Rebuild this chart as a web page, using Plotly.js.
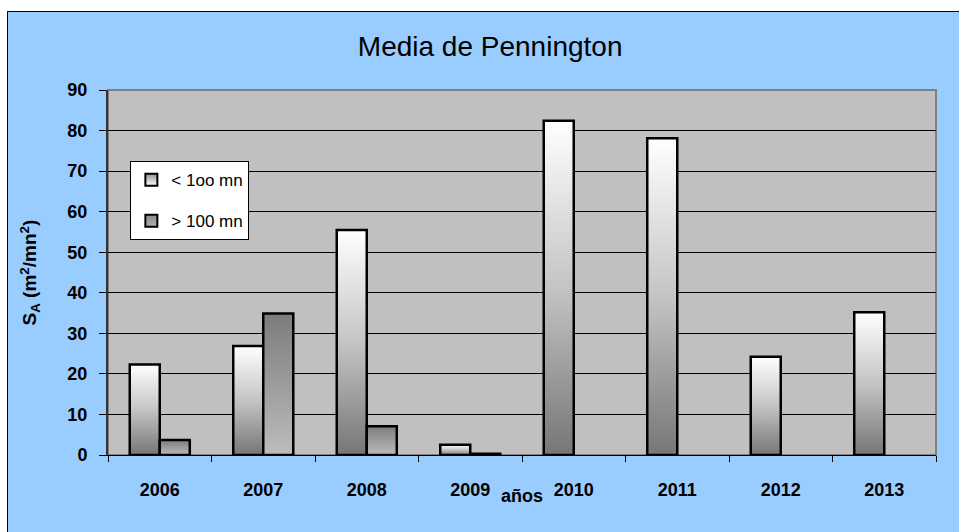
<!DOCTYPE html>
<html>
<head>
<meta charset="utf-8">
<script src="https://cdn.plot.ly/plotly-3.0.1.min.js"></script>
<style>
  html, body { margin: 0; padding: 0; background: #ffffff; }
  #frame {
    position: absolute; left: 7px; top: 11px;
    width: 951px; height: 520px;
    background: #99ccff;
    border-left: 1px solid #000; border-top: 1px solid #000;
  }
  #plot { width: 951px; height: 520px; }
</style>
</head>
<body>
<div id="frame"><div id="plot"></div></div>
<script>
// valores
const years = ['2006', '2007', '2008', '2009', '2010', '2011', '2012', '2013'];
const menos100 = [22.3, 26.9, 55.5, 2.5, 82.4, 78.1, 24.2, 35.2];
const mas100 = [3.7, 34.9, 7.1, 0.3, 0, 0, 0, 0];
const legendNames = ['< 1oo mn', '> 100 mn'];

const FONT = '"Liberation Sans", Arial, sans-serif';
const barW = 0.29;

// gradients: 0 = bottom of bar, 1 = top
const gradLow = [[0, '#767676'], [0.5, '#c4c4c4'], [1, '#ffffff']];
const gradHigh = [[0, '#bcbcbc'], [1, '#7c7c7c']];

function barTrace(i, v, left, grad) {
    const x0 = i + left, x1 = x0 + barW;
    return {
        x: [x0, x1, x1, x0, x0],
        y: [0, 0, v, v, 0],
        mode: 'lines',
        fill: 'toself',
        fillgradient: {type: 'vertical', colorscale: grad},
        line: {color: '#000', width: 2.5},
        hoverinfo: 'skip',
        showlegend: false,
    };
}

const traces = [];
years.forEach((yr, i) => {
    if (menos100[i] > 0) traces.push(barTrace(i, menos100[i], -barW, gradLow));
    if (mas100[i] > 0) traces.push(barTrace(i, mas100[i], 0, gradHigh));
});

// legend entries only
traces.push({
    x: [null], y: [null], mode: 'markers', name: legendNames[0], legendgroup: 'a',
    marker: {symbol: 'square', size: 12, color: '#909090', line: {color: '#000', width: 2},
             gradient: {type: 'vertical', color: '#ffffff'}},
});
traces.push({
    x: [null], y: [null], mode: 'markers', name: legendNames[1], legendgroup: 'b',
    marker: {symbol: 'square', size: 12, color: '#8a8a8a', line: {color: '#000', width: 2},
             gradient: {type: 'vertical', color: '#b0b0b0'}},
});
// dummy trace so the tick-mark axis is drawn
traces.push({x: [null], y: [null], xaxis: 'x2', mode: 'markers', showlegend: false, hoverinfo: 'skip'});

const layout = {
    width: 951,
    height: 520,
    margin: {l: 100, r: 23, t: 78, b: 77},
    paper_bgcolor: 'rgba(0,0,0,0)',
    plot_bgcolor: '#c0c0c0',
    font: {family: FONT, color: '#000'},
    title: {
        text: 'Media de Pennington',
        font: {family: FONT, size: 28, color: '#000'},
        xref: 'container', x: 0.507, xanchor: 'center',
        yref: 'container', y: 0.935, yanchor: 'middle',
    },
    xaxis: {
        range: [-0.5, 7.5],
        tickvals: years.map((_, i) => i),
        ticktext: years.map(y => '<b>' + y + '</b>'),
        ticks: '',
        showgrid: false,
        zeroline: false,
        showline: true,
        linecolor: '#000',
        linewidth: 1,
        tickfont: {family: FONT, size: 18},
        ticklabelstandoff: 18,
        automargin: false,
        fixedrange: true,
    },
    xaxis2: {
        overlaying: 'x',
        side: 'bottom',
        range: [-0.5, 7.5],
        tickvals: years.map((_, i) => i - 0.5).concat([years.length - 0.5]),
        ticks: 'outside',
        ticklen: 6,
        tickcolor: '#000',
        showticklabels: false,
        showgrid: false,
        zeroline: false,
        fixedrange: true,
    },
    yaxis: {
        range: [0, 90],
        dtick: 10,
        tickprefix: '<b>',
        ticksuffix: '</b>',
        ticks: 'outside',
        ticklen: 7,
        tickcolor: '#000',
        tickfont: {family: FONT, size: 18},
        ticklabelstandoff: 8,
        showgrid: true,
        gridcolor: '#000',
        gridwidth: 1,
        zeroline: false,
        showline: true,
        linecolor: '#333',
        linewidth: 2,
        automargin: false,
        fixedrange: true,
    },
    annotations: [
        {
            text: '<b>años</b>',
            xref: 'paper', yref: 'paper', x: 0.5, y: 0,
            xanchor: 'center', yanchor: 'middle', yshift: -41,
            showarrow: false,
            font: {family: FONT, size: 18},
        },
        {
            text: '<b>S<sub>A</sub> (m<sup>2</sup>/mn<sup>2</sup>)</b>',
            xref: 'paper', yref: 'paper', x: 0, y: 0.5,
            xanchor: 'center', yanchor: 'middle', xshift: -78,
            textangle: -90,
            showarrow: false,
            font: {family: FONT, size: 19},
        },
    ],
    shapes: [{
        type: 'rect', xref: 'paper', yref: 'paper',
        x0: 0, x1: 1, y0: 0, y1: 1,
        line: {color: '#808080', width: 2},
        layer: 'below',
    }],
    legend: {
        x: 0.027, y: 0.805, xanchor: 'left', yanchor: 'top',
        bgcolor: '#ffffff',
        bordercolor: '#000',
        borderwidth: 1,
        font: {family: FONT, size: 17},
        tracegroupgap: 16,
        itemwidth: 30,
    },
    showlegend: true,
};

Plotly.newPlot('plot', traces, layout, {displayModeBar: false, staticPlot: true});
</script>
</body>
</html>
